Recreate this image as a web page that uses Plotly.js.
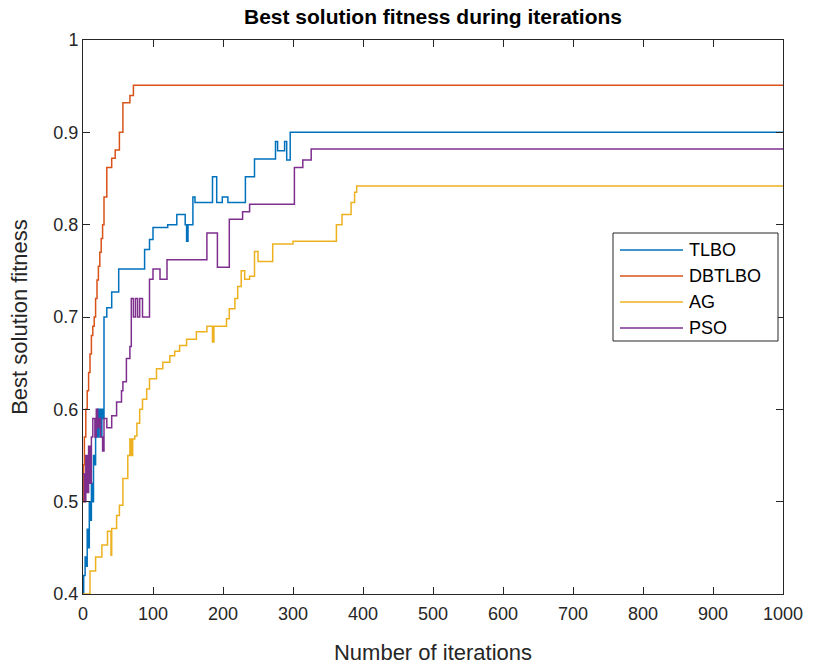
<!DOCTYPE html>
<html>
<head>
<meta charset="utf-8">
<script src="https://cdn.plot.ly/plotly-3.0.1.min.js"></script>
<style>html,body{margin:0;padding:0;background:#fff;}#chart{width:815px;height:665px;}</style>
</head>
<body>
<div id="chart"></div>
<script>
// ---- data ----
const seriesNames = ["TLBO", "DBTLBO", "AG", "PSO"];

const tlboIter = [0,1,3,5,6,8,9,11,12,14,15,17,18,20,21,22,23,24,25,26,27,29,30,34,41,51,88,95,100,121,134,146,148,150,157,160,185,191,199,207,232,245,275,278,288,291,296,1000];
const tlboVal  = [0.40,0.42,0.44,0.43,0.47,0.45,0.50,0.48,0.52,0.50,0.55,0.54,0.58,0.57,0.60,0.57,0.60,0.58,0.60,0.57,0.60,0.59,0.70,0.71,0.727,0.752,0.773,0.784,0.797,0.80,0.811,0.80,0.782,0.80,0.83,0.824,0.852,0.824,0.83,0.824,0.852,0.871,0.89,0.88,0.89,0.87,0.90,0.90];

const dbIter = [0,1,2,4,6,8,10,12,14,16,18,20,22,24,26,28,30,34,41,46,52,57,67,72,1000];
const dbVal  = [0.50,0.54,0.57,0.60,0.62,0.64,0.66,0.68,0.69,0.70,0.72,0.74,0.755,0.77,0.785,0.80,0.83,0.862,0.872,0.881,0.90,0.932,0.94,0.951,0.951];

const agIter = [0,10,18,27,35,40,41,48,52,57,64,67,69,71,74,77,81,85,91,95,105,114,124,131,138,148,162,177,185,187,195,205,209,217,221,226,231,238,245,250,271,300,362,370,383,388,391,1000];
const agVal  = [0.40,0.425,0.44,0.453,0.468,0.442,0.471,0.485,0.496,0.525,0.55,0.568,0.55,0.568,0.571,0.585,0.60,0.611,0.622,0.633,0.644,0.651,0.658,0.663,0.669,0.676,0.684,0.69,0.673,0.69,0.69,0.698,0.709,0.72,0.733,0.75,0.741,0.744,0.771,0.76,0.779,0.782,0.80,0.811,0.824,0.835,0.842,0.842];

const psoIter = [0,2,4,6,8,10,12,14,17,19,21,23,25,28,30,34,41,48,55,57,62,67,69,72,75,78,81,85,95,100,110,120,177,192,209,228,238,302,314,326,1000];
const psoVal  = [0.53,0.50,0.55,0.51,0.56,0.52,0.57,0.59,0.57,0.60,0.58,0.59,0.57,0.555,0.59,0.58,0.593,0.608,0.62,0.63,0.655,0.668,0.72,0.70,0.72,0.70,0.72,0.70,0.741,0.752,0.741,0.762,0.791,0.754,0.806,0.814,0.822,0.862,0.870,0.882,0.882];

const xTickVals = [0,100,200,300,400,500,600,700,800,900,1000];
const yTickVals = [0.4,0.5,0.6,0.7,0.8,0.9,1];
const yTickText = ["0.4","0.5","0.6","0.7","0.8","0.9","1"];

const titleText = "Best solution fitness during iterations";
const xTitle = "Number of iterations";
const yTitle = "Best solution fitness";

// ---- styles ----
const W = 815, H = 665;
const M = {l: 83, r: 32, t: 40, b: 71};
const plotW = W - M.l - M.r, plotH = H - M.t - M.b;
const px2x = p => (p - M.l) / plotW;          // pixel -> paper x
const px2y = p => (H - M.b - p) / plotH;      // pixel -> paper y

const colors = ["#0072BD", "#D95319", "#EDB120", "#7E2F8E"];
const xs = [tlboIter, dbIter, agIter, psoIter];
const ys = [tlboVal, dbVal, agVal, psoVal];
const FONT = "Liberation Sans, Arial, sans-serif";

const traces = seriesNames.map((n, i) => ({
  type: "scatter", mode: "lines", name: n,
  x: xs[i], y: ys[i],
  line: {color: colors[i], width: 1.5, shape: "hv"},
  showlegend: false
}));

// manual MATLAB-style legend
const shapes = [{type: "rect", xref: "paper", yref: "paper",
  x0: px2x(613), x1: px2x(778), y0: px2y(341), y1: px2y(233),
  line: {color: "#262626", width: 1}, fillcolor: "#fff", layer: "above"}];
const annotations = [];
seriesNames.forEach((n, i) => {
  const yy = px2y(250 + i * 26);
  shapes.push({type: "line", xref: "paper", yref: "paper", x0: px2x(620), x1: px2x(683), y0: yy, y1: yy,
               line: {color: colors[i], width: 1.5}, layer: "above"});
  annotations.push({xref: "paper", yref: "paper", x: px2x(687), y: yy, xanchor: "left", yanchor: "middle",
               text: n, showarrow: false, font: {family: FONT, size: 18, color: "#000"}});
});

const axisCommon = {
  showgrid: false, zeroline: false, showline: true, mirror: "ticks",
  linecolor: "#262626", linewidth: 1, ticks: "inside", ticklen: 7,
  tickcolor: "#262626", tickfont: {family: FONT, size: 18, color: "#262626"}
};

const layout = {
  width: W, height: H,
  paper_bgcolor: "#fff", plot_bgcolor: "#fff",
  margin: {l: M.l, r: M.r, t: M.t, b: M.b, pad: 0},
  showlegend: false,
  title: {text: "<b>" + titleText + "</b>", x: 0.5, xref: "paper", y: 1 - 17/H, yref: "container", yanchor: "middle",
          font: {family: FONT, size: 21, color: "#000"}},
  xaxis: Object.assign({}, axisCommon, {range: [0, 1000], tickvals: xTickVals, ticklabelstandoff: 3,
          title: {text: xTitle, font: {family: FONT, size: 22, color: "#262626"}, standoff: 24}}),
  yaxis: Object.assign({}, axisCommon, {range: [0.4, 1], tickvals: yTickVals, ticktext: yTickText,
          title: {text: yTitle, font: {family: FONT, size: 22, color: "#262626"}, standoff: 19}}),
  shapes: shapes,
  annotations: annotations
};

Plotly.newPlot("chart", traces, layout, {displayModeBar: false, staticPlot: true});
</script>
</body>
</html>
